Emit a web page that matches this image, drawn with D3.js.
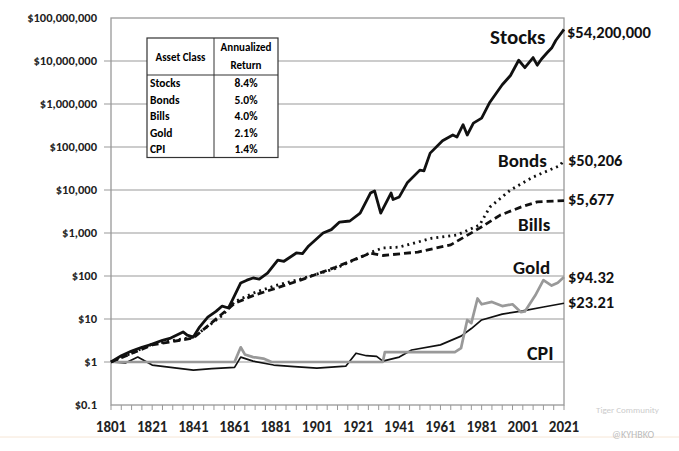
<!DOCTYPE html>
<html><head><meta charset="utf-8">
<script src="https://cdn.jsdelivr.net/npm/d3@7"></script>
<style>
body{margin:0;background:#fff;}
text{font-family:"Carlito","Liberation Sans Narrow","Liberation Sans",Arial,sans-serif;font-weight:bold;}
</style></head><body>
<svg id="chart" width="679" height="451"></svg>
<script>
var stocks = [[1801,1],[1806,1.4],[1811,1.8],[1816,2.2],[1820,2.5],[1826,3.2],[1830,3.6],[1836,5],[1838,4.2],[1841,3.8],[1844,6.5],[1848,11],[1852,15],[1855,20],[1858,18],[1860,28],[1864,69],[1867,80],[1870,90],[1873,85],[1877,117],[1882,235],[1885,220],[1891,343],[1894,330],[1897,500],[1904,1000],[1908,1200],[1912,1800],[1917,1900],[1922,2900],[1927,8500],[1929,9500],[1932,2900],[1937,8500],[1938,6000],[1941,6900],[1945,15000],[1951,29000],[1953,28000],[1956,72000],[1962,140000],[1967,190000],[1969,170000],[1972,330000],[1974,190000],[1977,360000],[1981,470000],[1985,1100000],[1991,2800000],[1995,4600000],[1999,10400000],[2002,7000000],[2006,12000000],[2008,8000000],[2010,11000000],[2013,16000000],[2015,20000000],[2017,30000000],[2021,54200000]];
var bonds = [[1801,1],[1821,2.6],[1841,3.8],[1855,12],[1861,25],[1870,40],[1881,60],[1893,85],[1910,150],[1927,350],[1933,450],[1941,470],[1957,760],[1969,900],[1980,1530],[1985,4000],[1995,10000],[2006,20000],[2019,37000],[2021,50206]];
var bills = [[1801,1],[1821,2.5],[1841,3.6],[1861,23],[1870,35],[1893,80],[1910,160],[1927,340],[1933,300],[1950,360],[1966,530],[1980,1300],[1990,2600],[2000,4000],[2008,5300],[2021,5677]];
var gold = [[1801,1],[1861,1],[1862,1.3],[1864,2.2],[1866,1.5],[1870,1.3],[1875,1.2],[1879,1],[1933,1],[1934,1.7],[1968,1.7],[1971,2.1],[1974,9.5],[1976,8],[1979,30],[1981,22],[1986,25],[1991,20],[1996,22],[2000,14.5],[2002,15],[2007,35],[2011,80],[2015,60],[2018,70],[2021,94.32]];
var cpi = [[1801,1],[1808,0.95],[1814,1.3],[1821,0.85],[1830,0.75],[1841,0.65],[1850,0.7],[1861,0.75],[1864,1.3],[1870,1.05],[1880,0.85],[1890,0.78],[1901,0.72],[1915,0.8],[1920,1.6],[1925,1.4],[1930,1.35],[1933,1.05],[1941,1.3],[1947,1.9],[1961,2.5],[1971,4],[1976,6],[1981,9.5],[1991,13],[2001,15.5],[2011,19],[2021,23.21]];
var yTicks = [0.1,1,10,100,1000,10000,100000,1000000,10000000,100000000];
var xTicks = d3.range(1801,2022,20);
var tableRows = [["Stocks","8.4%"],["Bonds","5.0%"],["Bills","4.0%"],["Gold","2.1%"],["CPI","1.4%"]];

var svg = d3.select("#chart");
var x = d3.scaleLinear().domain([1801,2021]).range([111,564]);
var y = d3.scaleLog().domain([0.1,1e8]).range([405,18]);

svg.selectAll(".grid").data(yTicks.slice(1,-1)).enter().append("line")
  .attr("x1",104).attr("x2",564).attr("y1",d=>y(d)).attr("y2",d=>y(d))
  .attr("stroke","#bbb").attr("stroke-width",1.3);
svg.append("rect").attr("x",111).attr("y",18).attr("width",453).attr("height",387)
  .attr("fill","none").attr("stroke","#999").attr("stroke-width",1.3);

svg.selectAll(".yl").data(yTicks).enter().append("text")
  .attr("x",97).attr("y",d=>y(d)+4).attr("text-anchor","end").attr("font-size",12.5)
  .attr("fill","#222").text(d=> d<1 ? "$0.1" : "$"+d3.format(",")(d));

svg.selectAll(".xt").data(d3.range(1801,2022,5)).enter().append("line")
  .attr("x1",d=>x(d)).attr("x2",d=>x(d)).attr("y1",405).attr("y2",410).attr("stroke","#999");
svg.selectAll(".xl").data(xTicks).enter().append("text")
  .attr("x",d=>x(d)).attr("y",432).attr("text-anchor","middle").attr("font-size",15)
  .attr("fill","#222").text(d=>d);

var line = d3.line().x(d=>x(d[0])).y(d=>y(d[1]));
function draw(data,color,w,dash){
  svg.append("path").datum(data).attr("d",line).attr("fill","none")
    .attr("stroke",color).attr("stroke-width",w).attr("stroke-dasharray",dash||null)
    .attr("stroke-linejoin","round");
}
draw(cpi,"#111",1.7);
draw(gold,"#999",2.7);
draw(bills,"#111",2.8,"7,4");
draw(bonds,"#111",2.8,"2,4");
draw(stocks,"#111",2.8);

var lab = [["Stocks",490,44,21],["Bonds",498,167,19],["Bills",518,231,19],["Gold",513,274,19],["CPI",527,360,20],
  ["$54,200,000",567,38,16.5],["$50,206",568,166,16.5],["$5,677",568,205,16.5],["$94.32",568,283,16.5],["$23.21",568,308,16.5]];
svg.selectAll(".lab").data(lab).enter().append("text")
  .attr("x",d=>d[1]).attr("y",d=>d[2]).attr("font-size",d=>d[3]).attr("fill","#111").text(d=>d[0]);

var tx=147, ty=38, c1=214, c2=278, hh=37, rh=16.5;
var g = svg.append("g");
g.append("rect").attr("x",tx).attr("y",ty).attr("width",c2-tx).attr("height",hh+rh*5)
  .attr("fill","#fff").attr("stroke","#333").attr("stroke-width",1.2);
g.append("line").attr("x1",c1).attr("x2",c1).attr("y1",ty).attr("y2",ty+hh+rh*5).attr("stroke","#333");
g.append("line").attr("x1",tx).attr("x2",c2).attr("y1",ty+hh).attr("y2",ty+hh).attr("stroke","#333").attr("stroke-width",1.2);
g.append("text").attr("x",(tx+c1)/2).attr("y",ty+23).attr("text-anchor","middle").attr("font-size",11).text("Asset Class");
g.append("text").attr("x",(c1+c2)/2).attr("y",ty+13).attr("text-anchor","middle").attr("font-size",11).text("Annualized");
g.append("text").attr("x",(c1+c2)/2).attr("y",ty+31).attr("text-anchor","middle").attr("font-size",11).text("Return");
tableRows.forEach(function(r,i){
  g.append("text").attr("x",tx+3).attr("y",ty+hh+rh*i+12).attr("font-size",11.5).text(r[0]);
  g.append("text").attr("x",(c1+c2)/2).attr("y",ty+hh+rh*i+12).attr("text-anchor","middle").attr("font-size",11.5).text(r[1]);
});

svg.append("line").attr("x1",0).attr("x2",679).attr("y1",437).attr("y2",437).attr("stroke","#f6e6d6");
svg.append("text").attr("x",596).attr("y",413).attr("font-size",9).attr("fill","#ccc").style("font-weight","normal").text("Tiger Community");
svg.append("text").attr("x",612).attr("y",438).attr("font-size",10).attr("fill","#bbb").style("font-weight","normal").text("@KYHBKO");
</script></body></html>
